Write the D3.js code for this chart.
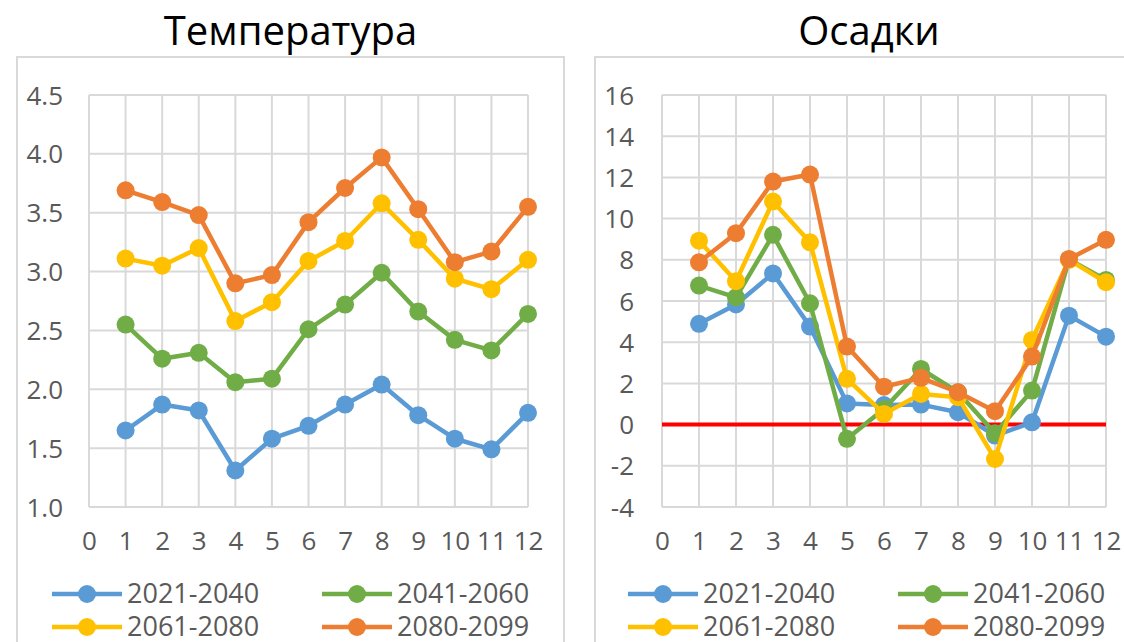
<!DOCTYPE html>
<html>
<head>
<meta charset="utf-8">
<script src="https://cdn.jsdelivr.net/npm/d3@7"></script>
<style>
  body { margin: 0; background: #fff; }
  text { font-family: "Open Sans", "Liberation Sans", sans-serif; fill: #595959; }
</style>
</head>
<body>
<div id="chart"></div>
<script>
// месяцы и подписи
var months = [1, 2, 3, 4, 5, 6, 7, 8, 9, 10, 11, 12];
var xTicks = [0, 1, 2, 3, 4, 5, 6, 7, 8, 9, 10, 11, 12];
var periods = ["2021-2040", "2041-2060", "2061-2080", "2080-2099"];
var colors = ["#5B9BD5", "#70AD47", "#FFC000", "#ED7D31"];

// Температура
var tempTicks = [1.0, 1.5, 2.0, 2.5, 3.0, 3.5, 4.0, 4.5];
var temp2021 = [1.65, 1.87, 1.82, 1.31, 1.58, 1.69, 1.87, 2.04, 1.78, 1.58, 1.49, 1.80];
var temp2041 = [2.55, 2.26, 2.31, 2.06, 2.09, 2.51, 2.72, 2.99, 2.66, 2.42, 2.33, 2.64];
var temp2061 = [3.11, 3.05, 3.20, 2.58, 2.74, 3.09, 3.26, 3.58, 3.27, 2.94, 2.85, 3.10];
var temp2080 = [3.69, 3.59, 3.48, 2.90, 2.97, 3.42, 3.71, 3.97, 3.53, 3.08, 3.17, 3.55];

// Осадки
var precTicks = [-4, -2, 0, 2, 4, 6, 8, 10, 12, 14, 16];
var prec2021 = [4.89, 5.83, 7.34, 4.76, 1.03, 0.95, 0.97, 0.60, -0.53, 0.11, 5.29, 4.27];
var prec2041 = [6.75, 6.18, 9.21, 5.89, -0.69, 0.76, 2.70, 1.57, -0.42, 1.65, 8.02, 7.02];
var prec2061 = [8.93, 6.96, 10.83, 8.85, 2.22, 0.52, 1.49, 1.33, -1.67, 4.11, 8.00, 6.91];
var prec2080 = [7.88, 9.29, 11.80, 12.14, 3.79, 1.84, 2.27, 1.57, 0.65, 3.30, 8.04, 8.97];

var width = 1124, height = 642;

var svg = d3.select("#chart").append("svg")
    .attr("width", width)
    .attr("height", height);

function drawChart(opt) {
    var g = svg.append("g");

    // рамка графика
    g.append("rect")
        .attr("x", opt.box[0])
        .attr("y", opt.box[1])
        .attr("width", opt.box[2])
        .attr("height", opt.box[3])
        .style("fill", "none")
        .style("stroke", "#d9d9d9")
        .style("stroke-width", 2);

    g.append("text")
        .attr("x", opt.box[0] + opt.box[2] / 2)
        .attr("y", 45)
        .attr("text-anchor", "middle")
        .style("font-size", "40px")
        .style("fill", "#000")
        .text(opt.title);

    var x = d3.scaleLinear().domain([0, 12]).range([opt.left, opt.right]);
    var y = d3.scaleLinear().domain(opt.yDomain).range([507, 95]);

    // сетка
    g.append("g").selectAll("line")
        .data(opt.yTicks)
        .enter().append("line")
        .attr("x1", opt.left).attr("x2", opt.right)
        .attr("y1", function (d) { return y(d); })
        .attr("y2", function (d) { return y(d); })
        .style("stroke", "#d9d9d9")
        .style("stroke-width", 2);

    g.append("g").selectAll("line")
        .data(xTicks)
        .enter().append("line")
        .attr("x1", function (d) { return x(d); })
        .attr("x2", function (d) { return x(d); })
        .attr("y1", y(opt.yDomain[0])).attr("y2", y(opt.yDomain[1]))
        .style("stroke", "#d9d9d9")
        .style("stroke-width", 2);

    // подписи осей (дефис вместо знака минус, как в Excel)
    var yAxis = g.append("g")
        .attr("transform", "translate(" + opt.labelX + ",0)")
        .call(d3.axisLeft(y).tickValues(opt.yTicks)
            .tickFormat(function (d) { return opt.yFormat(d).replace("\u2212", "-"); })
            .tickSize(0).tickPadding(0));
    yAxis.select(".domain").remove();
    yAxis.selectAll("text")
        .attr("dy", "0.35em")
        .style("font-size", "26px")
        .style("font-family", null)
        .attr("fill", null);

    var xAxis = g.append("g")
        .attr("transform", "translate(0,529)")
        .call(d3.axisBottom(x).tickValues(xTicks).tickFormat(d3.format("d")).tickSize(0).tickPadding(0));
    xAxis.select(".domain").remove();
    xAxis.selectAll("text")
        .attr("dy", "0.8em")
        .style("font-size", "26px")
        .style("font-family", null)
        .attr("fill", null);

    if (opt.zeroLine) {
        g.append("line")
            .attr("x1", opt.left).attr("x2", opt.right)
            .attr("y1", y(0)).attr("y2", y(0))
            .style("stroke", "#FF0000")
            .style("stroke-width", 4);
    }

    var line = d3.line()
        .x(function (d, i) { return x(months[i]); })
        .y(function (d) { return y(d); });

    opt.series.forEach(function (s, k) {
        var sg = g.append("g");
        sg.append("path")
            .datum(s)
            .attr("d", line)
            .style("fill", "none")
            .style("stroke", colors[k])
            .style("stroke-width", 4.5)
            .style("stroke-linejoin", "round");
        sg.selectAll("circle")
            .data(s)
            .enter().append("circle")
            .attr("cx", function (d, i) { return x(months[i]); })
            .attr("cy", function (d) { return y(d); })
            .attr("r", 9)
            .style("fill", colors[k]);
    });

    // легенда
    periods.forEach(function (p, k) {
        var lx = opt.legendX + (k % 2) * 270;
        var ly = 594 + Math.floor(k / 2) * 33;
        g.append("line")
            .attr("x1", lx).attr("x2", lx + 70)
            .attr("y1", ly).attr("y2", ly)
            .style("stroke", colors[k])
            .style("stroke-width", 4.5);
        g.append("circle")
            .attr("cx", lx + 35).attr("cy", ly)
            .attr("r", 9)
            .style("fill", colors[k]);
        g.append("text")
            .attr("x", lx + 75)
            .attr("y", ly)
            .attr("dy", "0.35em")
            .style("font-size", "27px")
            .text(p);
    });
}

drawChart({
    title: "Температура",
    box: [17, 57, 547, 600],
    left: 89, right: 528,
    labelX: 63,
    yDomain: [1.0, 4.5],
    yTicks: tempTicks,
    yFormat: d3.format(".1f"),
    legendX: 52,
    zeroLine: false,
    series: [temp2021, temp2041, temp2061, temp2080]
});

drawChart({
    title: "Осадки",
    box: [595, 57, 548, 600],
    left: 662, right: 1106,
    labelX: 634,
    yDomain: [-4, 16],
    yTicks: precTicks,
    yFormat: d3.format("d"),
    legendX: 628,
    zeroLine: true,
    series: [prec2021, prec2041, prec2061, prec2080]
});
</script>
</body>
</html>
